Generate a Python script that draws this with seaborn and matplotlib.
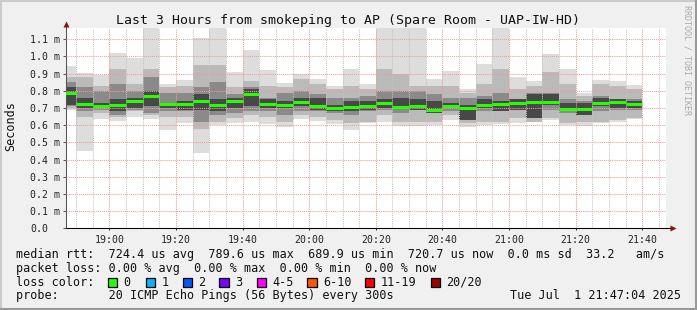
import numpy as np
import pandas as pd
import matplotlib
matplotlib.use("Agg")
import matplotlib.pyplot as plt
import matplotlib.dates as mdates
from matplotlib.patches import Rectangle
from matplotlib.lines import Line2D
import seaborn as sns

# ---------------- data ----------------
title = "Last 3 Hours from smokeping to AP (Spare Room - UAP-IW-HD)"
bin_start = pd.date_range("2025-07-01 18:45", periods=35, freq="5min")
view_start = pd.Timestamp("2025-07-01 18:47:04")
view_end = pd.Timestamp("2025-07-01 21:47:04")

median_ms = [0.790, 0.724, 0.714, 0.718, 0.741, 0.772, 0.724, 0.724, 0.741, 0.718,
             0.741, 0.784, 0.724, 0.718, 0.735, 0.714, 0.702, 0.708, 0.714, 0.732,
             0.708, 0.714, 0.691, 0.714, 0.702, 0.720, 0.726, 0.732, 0.737, 0.737,
             0.693, 0.693, 0.730, 0.735, 0.721]
max_ms = [0.945, 0.902, 0.893, 1.020, 0.994, 1.200, 0.840, 0.864, 1.106, 1.200,
          0.912, 1.038, 0.922, 0.844, 0.899, 0.869, 0.829, 0.928, 0.838, 1.200,
          1.200, 1.200, 0.869, 0.916, 0.809, 0.957, 1.200, 0.883, 0.858, 1.015,
          0.928, 0.790, 0.864, 0.858, 0.834]
min_ms = [0.690, 0.452, 0.635, 0.625, 0.650, 0.638, 0.572, 0.615, 0.438, 0.600,
          0.610, 0.620, 0.605, 0.592, 0.636, 0.627, 0.605, 0.574, 0.610, 0.621,
          0.594, 0.598, 0.601, 0.632, 0.592, 0.604, 0.606, 0.612, 0.618, 0.630,
          0.601, 0.595, 0.611, 0.620, 0.635]
band2_lo = [0.70, 0.65, 0.67, 0.65, 0.68, 0.66, 0.65, 0.65, 0.58, 0.62,
            0.64, 0.66, 0.65, 0.62, 0.66, 0.65, 0.63, 0.61, 0.62, 0.66,
            0.62, 0.62, 0.62, 0.66, 0.61, 0.62, 0.62, 0.64, 0.62, 0.64,
            0.61, 0.62, 0.62, 0.63, 0.64]
band2_hi = [0.88, 0.88, 0.83, 0.93, 0.84, 0.93, 0.82, 0.83, 0.95, 0.95,
            0.82, 0.86, 0.83, 0.82, 0.87, 0.84, 0.81, 0.83, 0.81, 0.93,
            0.90, 0.83, 0.83, 0.83, 0.79, 0.84, 0.93, 0.81, 0.83, 0.91,
            0.84, 0.77, 0.84, 0.83, 0.81]
band3_lo = [0.71, 0.68, 0.69, 0.66, 0.69, 0.67, 0.68, 0.68, 0.62, 0.66,
            0.67, 0.68, 0.68, 0.66, 0.68, 0.68, 0.67, 0.66, 0.68, 0.69,
            0.67, 0.69, 0.67, 0.68, 0.63, 0.68, 0.68, 0.69, 0.64, 0.69,
            0.67, 0.66, 0.68, 0.69, 0.69]
band3_hi = [0.85, 0.82, 0.80, 0.84, 0.80, 0.88, 0.79, 0.79, 0.82, 0.85,
            0.78, 0.82, 0.76, 0.79, 0.80, 0.78, 0.76, 0.76, 0.77, 0.80,
            0.80, 0.80, 0.78, 0.76, 0.76, 0.77, 0.79, 0.75, 0.79, 0.79,
            0.75, 0.74, 0.77, 0.75, 0.75]
band4_lo = [0.72, 0.70, 0.70, 0.68, 0.70, 0.71, 0.70, 0.69, 0.69, 0.68,
            0.70, 0.71, 0.70, 0.70, 0.71, 0.69, 0.68, 0.68, 0.69, 0.70,
            0.70, 0.69, 0.67, 0.70, 0.63, 0.70, 0.68, 0.69, 0.64, 0.72,
            0.68, 0.66, 0.71, 0.70, 0.70]
band4_hi = [0.82, 0.76, 0.73, 0.75, 0.76, 0.80, 0.73, 0.74, 0.78, 0.75,
            0.76, 0.81, 0.75, 0.74, 0.76, 0.76, 0.72, 0.74, 0.74, 0.75,
            0.76, 0.75, 0.74, 0.73, 0.72, 0.75, 0.74, 0.75, 0.78, 0.78,
            0.73, 0.73, 0.76, 0.75, 0.74]

ytick_values = [0.0, 0.1, 0.2, 0.3, 0.4, 0.5, 0.6, 0.7, 0.8, 0.9, 1.0, 1.1]
ytick_labels = ["0.0", "0.1 m", "0.2 m", "0.3 m", "0.4 m", "0.5 m", "0.6 m",
                "0.7 m", "0.8 m", "0.9 m", "1.0 m", "1.1 m"]

legend_lines = [
    "median rtt:  724.4 us avg  789.6 us max  689.9 us min  720.7 us now  0.0 ms sd  33.2   am/s",
    "packet loss: 0.00 % avg  0.00 % max  0.00 % min  0.00 % now",
]
loss_labels = ["0", "1", "2", "3", "4-5", "6-10", "11-19", "20/20"]
loss_colors = ["#26ff00", "#00b8ff", "#0059ff", "#7e00ff", "#ff00ff", "#ff5500", "#ff0000", "#a10000"]
probe_text = "probe:       20 ICMP Echo Pings (56 Bytes) every 300s"
stamp_text = "Tue Jul  1 21:47:04 2025"

# ---------------- style ----------------
sns.set_theme(style="white")
plt.rcParams["font.family"] = ["DejaVu Sans Mono"]

W, H = 697, 310
fig = plt.figure(figsize=(W / 100, H / 100), dpi=100, facecolor="#f0f0f0")


def fx(px):
    return px / W


def fy(py):
    return 1 - py / H


ax = fig.add_axes([fx(66.2), fy(228.3), (665.9 - 66.2) / W, 200 / H])
ax.set_facecolor("white")

x0 = mdates.date2num(bin_start.to_pydatetime())
wd = 5 / 1440.0

levels = [(min_ms, max_ms, "#dddddd"),
          (band2_lo, band2_hi, "#bababa"),
          (band3_lo, band3_hi, "#8a8a8a"),
          (band4_lo, band4_hi, "#484848")]
for lo, hi, col in levels:
    lo = np.asarray(lo)
    hi = np.asarray(hi)
    ax.bar(x0, hi - lo, bottom=lo, width=wd, align="edge", color=col,
           linewidth=0, zorder=1)

ax.hlines(median_ms, x0, x0 + wd, colors=loss_colors[0], linewidth=2.2, zorder=4)

ax.set_xlim(mdates.date2num(view_start), mdates.date2num(view_end))
ax.set_ylim(0, 1.164)

ax.xaxis.set_major_locator(mdates.MinuteLocator(byminute=[0, 20, 40]))
ax.xaxis.set_major_formatter(mdates.DateFormatter("%H:%M"))
ax.xaxis.set_minor_locator(mdates.MinuteLocator(byminute=range(0, 60, 5)))
ax.set_yticks(ytick_values)
ax.set_yticklabels(ytick_labels)
for lbl in ax.get_yticklabels():
    lbl.set_horizontalalignment("left")

ax.set_axisbelow(False)
ax.grid(True, which="major", axis="both", color="#f29b9b",
        linestyle=(0, (1, 1)), linewidth=0.75)
ax.grid(True, which="minor", axis="x", color="#c4c4c4",
        linestyle=(0, (1, 1)), linewidth=0.75)

sns.despine(ax=ax, top=True, right=True)
ax.spines["left"].set_color("#555555")
ax.spines["left"].set_linewidth(0.75)
ax.spines["bottom"].set_color("#000000")
ax.spines["bottom"].set_linewidth(0.75)

ax.tick_params(axis="y", which="major", length=2.2, width=0.75, color="#555555",
               pad=23.9, labelsize=7.1, labelcolor="#222222", left=True)
ax.tick_params(axis="x", which="major", length=1.5, width=0.75, color="#333333",
               pad=3.0, labelsize=7.1, labelcolor="#222222", bottom=True)
ax.tick_params(axis="x", which="minor", length=0)

# axis arrows
ax.plot([1.0, 1.012], [0, 0], color="#000000", lw=0.75, transform=ax.transAxes,
        clip_on=False, zorder=5)
ax.plot([1.012], [0], marker=">", ms=4, color="#8b1010", transform=ax.transAxes,
        clip_on=False, zorder=6, mec="none")
ax.plot([0, 0], [1.0, 1.02], color="#555555", lw=0.75, transform=ax.transAxes,
        clip_on=False, zorder=5)
ax.plot([0], [1.022], marker="^", ms=4, color="#8b1010", transform=ax.transAxes,
        clip_on=False, zorder=6, mec="none")

# texts
fig.text(fx(347.5), fy(24), title, ha="center", va="baseline", fontsize=9.5, color="#111111")
fig.text(fx(11), fy(126), "Seconds", rotation=90, ha="center", va="center",
         fontsize=8.5, color="#111111")
fig.text(fx(687.5), fy(60), "RRDTOOL / TOBI OETIKER", rotation=270, ha="center",
         va="center", fontsize=6.0, color="#aaaaaa")

fig.text(fx(16), fy(258.3), legend_lines[0], ha="left", va="baseline", fontsize=8.5, color="#111111")
fig.text(fx(16), fy(271.8), legend_lines[1], ha="left", va="baseline", fontsize=8.5, color="#111111")
fig.text(fx(16), fy(285.7), "loss color:", ha="left", va="baseline", fontsize=8.5, color="#111111")
box_x = [108, 145.7, 182.7, 219.3, 256.7, 307.3, 365, 430.7]
for bx, lab, col in zip(box_x, loss_labels, loss_colors):
    fig.add_artist(Rectangle((fx(bx), fy(287.0)), 9.3 / W, 9.3 / H, transform=fig.transFigure,
                             facecolor=col, edgecolor="#000000", linewidth=0.9))
    fig.text(fx(bx + 15.5), fy(285.7), lab, ha="left", va="baseline", fontsize=8.5, color="#111111")
fig.text(fx(16), fy(299.3), probe_text, ha="left", va="baseline", fontsize=8.5, color="#111111")
fig.text(fx(680.5), fy(299.3), stamp_text, ha="right", va="baseline", fontsize=8.5, color="#111111")

# frame shading
fig.add_artist(Line2D([0, 1], [fy(0.8), fy(0.8)], transform=fig.transFigure, color="#cbcbcb", lw=1.5))
fig.add_artist(Line2D([fx(0.8), fx(0.8)], [0, 1], transform=fig.transFigure, color="#cbcbcb", lw=1.5))
fig.add_artist(Line2D([0, 1], [fy(309.2), fy(309.2)], transform=fig.transFigure, color="#999999", lw=1.5))
fig.add_artist(Line2D([fx(696.2), fx(696.2)], [0, 1], transform=fig.transFigure, color="#999999", lw=1.5))

fig.savefig("out.png", dpi=100, facecolor=fig.get_facecolor())
